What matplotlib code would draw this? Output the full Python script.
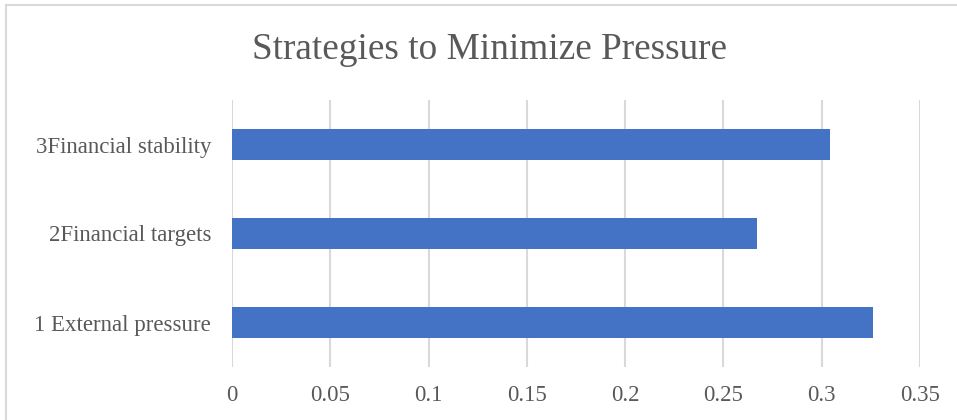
import matplotlib
matplotlib.use("Agg")
import matplotlib.pyplot as plt
from matplotlib.lines import Line2D

# data
categories = ["1 External pressure", "2Financial targets", "3Financial stability"]
values = [0.326, 0.267, 0.304]
xticks = [0, 0.05, 0.1, 0.15, 0.2, 0.25, 0.3, 0.35]
xtick_labels = ["0", "0.05", "0.1", "0.15", "0.2", "0.25", "0.3", "0.35"]

plt.rcParams["font.family"] = ["Liberation Serif", "DejaVu Serif"]
text_color = "#595959"
grid_color = "#D9D9D9"

fig = plt.figure(figsize=(9.57, 4.2), dpi=100)
ax = fig.add_axes([232 / 957, 53 / 420, 688 / 957, 267 / 420])

ax.barh(range(len(categories)), values, height=0.35, color="#4472C4", zorder=3)

ax.set_xlim(0, 0.35)
ax.set_ylim(-0.5, len(categories) - 0.5)
ax.set_xticks(xticks)
ax.set_xticklabels(xtick_labels)
ax.set_yticks(range(len(categories)))
ax.set_yticklabels(categories)
ax.tick_params(axis="both", length=0, labelsize=16.5, labelcolor=text_color)
ax.tick_params(axis="x", pad=13)
ax.tick_params(axis="y", pad=15)
ax.grid(axis="x", color=grid_color, linewidth=1.5, zorder=0)
for s in ax.spines.values():
    s.set_visible(False)

fig.text(489 / 957, 1 - 50 / 420, "Strategies to Minimize Pressure", ha="center", va="center",
         fontsize=26.8, color=text_color)

# chart frame (left and top edges visible)
fig.add_artist(Line2D([6 / 957, 6 / 957], [0, 1 - 5 / 420], transform=fig.transFigure,
                      color=grid_color, linewidth=1.5))
fig.add_artist(Line2D([6 / 957, 1], [1 - 5 / 420, 1 - 5 / 420], transform=fig.transFigure,
                      color=grid_color, linewidth=1.5))

fig.savefig("out.png", dpi=100)
